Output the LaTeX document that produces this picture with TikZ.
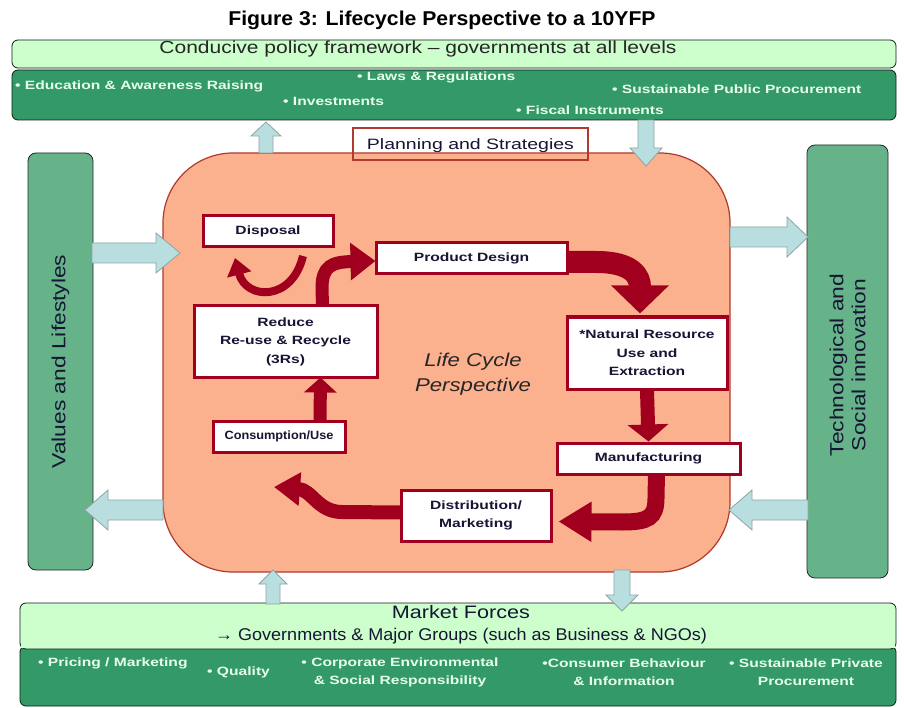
\documentclass[tikz,border=0pt]{standalone}
\usepackage{fontspec}
\setmainfont{Liberation Sans}
\newfontfamily\wfont[FakeStretch=1.3]{Liberation Sans}
\newfontfamily\mfont[FakeStretch=1.2]{Liberation Sans}
\newfontfamily\tfont[FakeStretch=1.06]{Liberation Sans}
\usetikzlibrary{arrows.meta,calc}
\definecolor{lgreen}{HTML}{CCFFCC}
\definecolor{dgreen}{HTML}{339966}
\definecolor{mgreen}{HTML}{66B38A}
\definecolor{salmon}{HTML}{FBB08E}
\definecolor{dred}{HTML}{A0001E}
\definecolor{oborder}{HTML}{B03A2E}
\definecolor{bafill}{HTML}{B8DEE0}
\definecolor{baline}{HTML}{8FA3A5}
\definecolor{navy}{HTML}{161634}
\definecolor{btext}{HTML}{E6FFE6}
\newcommand{\blkH}[6]{\draw[blk] ({#1},{#3-#4}) -- ({#2-(#6)},{#3-#4}) -- ({#2-(#6)},{#3-#5}) -- ({#2},{#3}) -- ({#2-(#6)},{#3+#5}) -- ({#2-(#6)},{#3+#4}) -- ({#1},{#3+#4}) -- cycle;}
\newcommand{\blkV}[6]{\draw[blk] ({#3-#4},{#1}) -- ({#3-#4},{#2-(#6)}) -- ({#3-#5},{#2-(#6)}) -- ({#3},{#2}) -- ({#3+#5},{#2-(#6)}) -- ({#3+#4},{#2-(#6)}) -- ({#3+#4},{#1}) -- cycle;}
\begin{document}
\begin{tikzpicture}[x=1pt,y=-1pt,
  blk/.style={fill=bafill,draw=baline,line width=0.8pt},
  band/.style={draw=black!80!dgreen,line width=0.8pt,rounded corners=6pt},
  bul/.style={text=btext,font=\wfont\fontsize{12}{13}\selectfont\bfseries,anchor=west,inner sep=0pt},
  bulc/.style={text=btext,font=\wfont\fontsize{12}{18}\selectfont\bfseries,align=center,inner sep=0pt},
  lcbox/.style={draw=dred,line width=3pt,fill=white,text=navy,font=\wfont\fontsize{12}{18.5}\selectfont\bfseries,align=center,inner sep=0pt},
  redarrow/.style={draw=dred,line cap=butt}]
\fill[white] (0,0) rectangle (904,708);
\useasboundingbox (0,0) rectangle (904,708);

% title
\node[font=\tfont\fontsize{20}{22}\selectfont\bfseries] (title) at (442,20) {Figure 3: Lifecycle Perspective to a 10YFP};

% top bands
\node[band,fill=dgreen,minimum width=884pt,minimum height=50pt,inner sep=0pt] (topdark) at (454,95) {};
\node[band,fill=lgreen,minimum width=884pt,minimum height=28pt,inner sep=0pt] (toplight) at (454,54) {};
\node[font=\mfont\fontsize{17.5}{18}\selectfont,text=black!85] (toptxt) at (418,49) {Conducive policy framework – governments at all levels};
\node[bul] (b1) at (15,86) {• Education \& Awareness Raising};
\node[bul] (b2) at (357,77) {• Laws \& Regulations};
\node[bul] (b3) at (283,101) {• Investments};
\node[bul] (b4) at (612,89) {• Sustainable Public Procurement};
\node[bul] (b5) at (516,110) {• Fiscal Instruments};

% side boxes
\node[draw=black!85,line width=0.8pt,fill=mgreen,rounded corners=8pt,minimum width=65pt,minimum height=417pt,inner sep=0pt] (left) at (60.5,361.5) {};
\node[rotate=90,font=\mfont\fontsize{19}{21}\selectfont,text=navy] (lefttxt) at (60.5,361.5) {Values and Lifestyles};
\node[draw=black!85,line width=0.8pt,fill=mgreen,rounded corners=8pt,minimum width=81pt,minimum height=433pt,inner sep=0pt] (right) at (847.5,361.5) {};
\node[rotate=90,font=\mfont\fontsize{19}{22}\selectfont,text=navy,align=center] (righttxt) at (847.5,365) {Technological and\\Social innovation};

% bottom bands
\node[band,fill=dgreen,minimum width=876pt,minimum height=60pt,inner sep=0pt] (botdark) at (458,676) {};
\node[band,fill=lgreen,minimum width=876pt,minimum height=46pt,inner sep=0pt] (botlight) at (458,626) {};
\fill[lgreen] (21,640) rectangle (895,648);
\node[font=\mfont\fontsize{18}{20}\selectfont,text=navy] (mf) at (461,612) {Market Forces};
\node[font=\tfont\fontsize{17}{18}\selectfont,text=navy] (gov) at (461,636) {→ Governments \& Major Groups (such as Business \& NGOs)};
\node[bul] (c1) at (38,663) {• Pricing / Marketing};
\node[bul] (c2) at (207,672) {• Quality};
\node[bulc] (c3) at (400,672) {• Corporate Environmental\\\& Social Responsibility};
\node[bulc] (c4) at (624,672) {•Consumer Behaviour\\\& Information};
\node[bulc] (c5) at (806,672) {• Sustainable Private\\Procurement};

% orange life cycle area
\node[draw=oborder,line width=1.2pt,fill=salmon,rounded corners=70pt,minimum width=567pt,minimum height=419pt,inner sep=0pt] (lc) at (446.5,362.5) {};
\node[draw=oborder,line width=1.6pt,minimum width=235pt,minimum height=32pt,inner sep=0pt] (plan) at (470.5,144) {};
\node[font=\wfont\fontsize{15}{17}\selectfont,text=navy] (plantxt) at (470.5,146) {Planning and Strategies};
\node[font=\mfont\fontsize{18.5}{25}\selectfont\itshape,text=black!85,align=center] (lcp) at (473,374) {Life Cycle\\Perspective};

% block arrows
\blkH{92}{180}{253}{10}{20}{24}
\blkH{163}{85}{510}{10}{20}{-23}
\blkH{730}{808}{237}{10}{20}{21}
\blkH{808}{729}{510}{10}{20}{-23}
\blkV{153}{122}{266}{7}{15}{-14}
\blkV{120}{166}{646}{8}{16}{18}
\blkV{604}{570}{273}{7}{14}{-14}
\blkV{570}{611}{622}{8}{16}{16}

% life cycle boxes
\node[lcbox,minimum width=130pt,minimum height=31pt] (disp) at (268,231.5) {Disposal};
\node[lcbox,minimum width=191pt,minimum height=31pt] (pd) at (471.5,258) {Product Design};
\node[lcbox,minimum width=183pt,minimum height=71pt] (red) at (285.5,341.5) {Reduce\\Re-use \& Recycle\\(3Rs)};
\node[lcbox,minimum width=160pt,minimum height=72pt] (nr) at (647,353) {*Natural Resource\\Use and\\Extraction};
\node[lcbox,minimum width=183pt,minimum height=31pt] (mfg) at (648.5,458.5) {Manufacturing};
\node[lcbox,minimum width=150pt,minimum height=51pt] (dist) at (476,515.5) {Distribution/\\Marketing};
\node[lcbox,minimum width=132pt,minimum height=31pt,font=\tfont\fontsize{12}{14}\selectfont\bfseries] (cons) at (279,436.5) {Consumption/Use};

% red arrows
\draw[redarrow,line width=22pt,-{Triangle[width=56pt,length=28pt]}]
  ($(pd.east)+(-2,4)$) -- ++(30,0) .. controls (632,262) and (640,276) .. ($(nr.north)+(-7,-2)$);
\draw[redarrow,line width=14pt,-{Triangle[width=40pt,length=17pt]}]
  (nr.south) -- (mfg.north);
\draw[redarrow,line width=17pt,-{Triangle[width=38pt,length=33pt]}]
  ($(mfg.south)+(8,-2)$) -- (656,498) .. controls (656,518) and (648,522) .. (622,522) -- ($(dist.east)+(6,6)$);
\draw[redarrow,line width=14pt,-{Triangle[width=32pt,length=26pt]}]
  ($(dist.west)+(2,-3)$) -- (342,512) .. controls (318,512) and (312,490) .. (274,487);
\draw[redarrow,line width=13pt,-{Triangle[width=32pt,length=15pt]}]
  ($(cons.north)+(41,1)$) -- ($(red.south)+(35,-1)$);
\draw[redarrow,line width=13pt,-{Triangle[width=36pt,length=25pt]}]
  ($(red.north)+(37,1)$) -- (322,288) .. controls (322,266) and (332,262) .. ($(pd.west)+(1,3)$);
\draw[redarrow,line width=8pt,-{Triangle[width=24pt,length=17pt]}]
  (303,256) .. controls (292,302) and (246,300) .. (235,258);
\end{tikzpicture}
\end{document}
